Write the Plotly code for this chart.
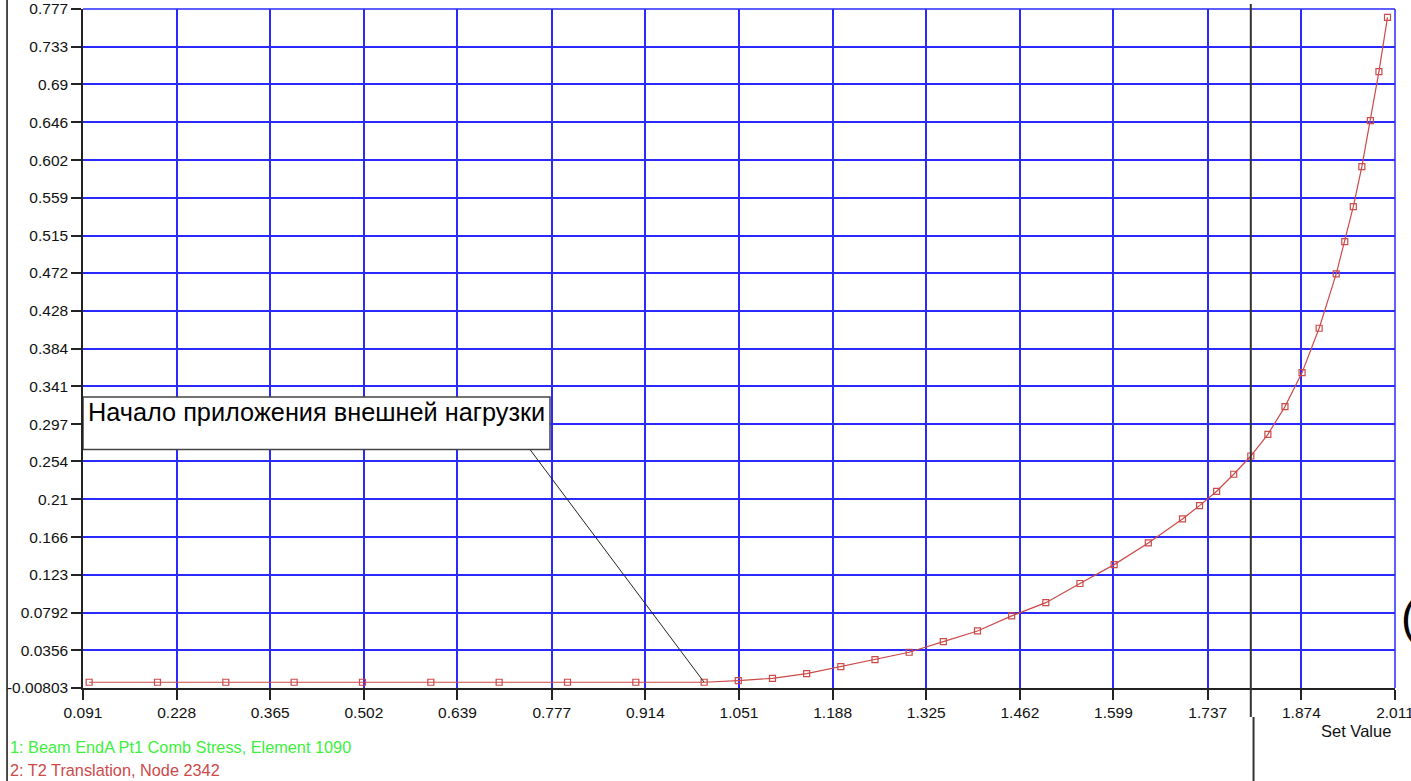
import plotly.graph_objects as go

# ---- data ----
set_value = [0.1, 0.2, 0.3, 0.4, 0.5, 0.6, 0.7, 0.8, 0.9, 1.0,
             1.05, 1.1, 1.15, 1.2, 1.25, 1.3, 1.35, 1.4, 1.45, 1.5,
             1.55, 1.6, 1.65, 1.7, 1.725, 1.75, 1.775, 1.8, 1.825, 1.85,
             1.875, 1.9, 1.925, 1.9375, 1.95, 1.9625, 1.975, 1.9875, 2.0]
t2_translation = [-0.0014, -0.0014, -0.0014, -0.0014, -0.0014, -0.0014, -0.0014, -0.0014, -0.0014, -0.0014,
                  0.0005, 0.0032, 0.0086, 0.0166, 0.0247, 0.0333, 0.0456, 0.0579, 0.0753, 0.0906,
                  0.1128, 0.1346, 0.1597, 0.1874, 0.2028, 0.2194, 0.2391, 0.2602, 0.2853, 0.3173,
                  0.3566, 0.4079, 0.4707, 0.5080, 0.5485, 0.5947, 0.6479, 0.7046, 0.7674]

x_ticks = [0.091, 0.228, 0.365, 0.502, 0.639, 0.777, 0.914, 1.051, 1.188,
           1.325, 1.462, 1.599, 1.737, 1.874, 2.011]
x_tick_labels = ["0.091", "0.228", "0.365", "0.502", "0.639", "0.777", "0.914", "1.051", "1.188",
                 "1.325", "1.462", "1.599", "1.737", "1.874", "2.011"]
y_ticks = [-0.00803, 0.0356, 0.0792, 0.123, 0.166, 0.21, 0.254, 0.297, 0.341, 0.384,
           0.428, 0.472, 0.515, 0.559, 0.602, 0.646, 0.69, 0.733, 0.777]
y_tick_labels = ["-0.00803", "0.0356", "0.0792", "0.123", "0.166", "0.21", "0.254", "0.297", "0.341", "0.384",
                 "0.428", "0.472", "0.515", "0.559", "0.602", "0.646", "0.69", "0.733", "0.777"]

annotation_text = "Начало приложения внешней нагрузки"
annotation_point = (1.0, -0.0014)
cursor_x = 1.8
legend_1 = "1: Beam EndA Pt1 Comb Stress, Element 1090"
legend_2 = "2: T2 Translation, Node 2342"
x_title = "Set Value"

EPS = 1e-5
X_RANGE = [x_ticks[0] - EPS, x_ticks[-1] + EPS]
Y_RANGE = [y_ticks[0] - EPS, y_ticks[-1] + EPS]

FONT = "Liberation Sans, Arial, sans-serif"
GRID = "#2a2aff"
RED = "#cc4a4a"

fig = go.Figure()
fig.add_trace(go.Scatter(
    x=set_value, y=t2_translation, mode="lines+markers",
    line=dict(color=RED, width=1.2),
    marker=dict(symbol="square-open", size=6, color=RED, line=dict(width=1.2, color=RED)),
    showlegend=False, hoverinfo="x+y"))

fig.update_layout(
    width=1411, height=781,
    margin=dict(l=83, r=16, t=9, b=93, autoexpand=False),
    paper_bgcolor="white", plot_bgcolor="white",
    font=dict(family=FONT, size=15, color="#111111"),
    showlegend=False,
    xaxis=dict(range=X_RANGE, tickvals=x_ticks, ticktext=x_tick_labels,
               showgrid=True, gridcolor=GRID, gridwidth=1.5,
               showline=True, linecolor="#222222", linewidth=1.5,
               ticks="outside", ticklen=10, tickwidth=1.5, tickcolor="#222222",
               tickfont=dict(family=FONT, size=15.5, color="#111111"),
               ticklabeloverflow="allow", automargin=False,
               zeroline=False, fixedrange=True),
    yaxis=dict(range=Y_RANGE, tickvals=y_ticks, ticktext=y_tick_labels,
               showgrid=True, gridcolor=GRID, gridwidth=1.5,
               showline=True, linecolor="#222222", linewidth=1.5,
               ticks="outside", ticklen=10, tickwidth=1.5, tickcolor="#222222",
               tickfont=dict(family=FONT, size=15.5, color="#111111"),
               ticklabeloverflow="allow", automargin=False,
               zeroline=False, fixedrange=True),
)

shapes = []
# blue top and right borders (grid at range edges)
shapes.append(dict(type="line", xref="paper", yref="paper", x0=0, x1=1, y0=1, y1=1,
                   line=dict(color=GRID, width=1.5), layer="below"))
shapes.append(dict(type="line", xref="paper", yref="paper", x0=1, x1=1, y0=0, y1=1,
                   line=dict(color=GRID, width=1.5), layer="below"))
# left border of the window
shapes.append(dict(type="line", xref="paper", yref="paper", x0=-0.0579, x1=-0.0579, y0=-0.14, y1=1.02,
                   line=dict(color="#111111", width=1.5)))
# vertical cursor line
shapes.append(dict(type="line", xref="x", yref="paper", x0=cursor_x, x1=cursor_x, y0=-0.0427, y1=1.0074,
                   line=dict(color="#333333", width=2)))
shapes.append(dict(type="line", xref="x", yref="paper", x0=cursor_x + 0.004, x1=cursor_x + 0.004,
                   y0=-0.14, y1=-0.0427, line=dict(color="#333333", width=2)))
# annotation box
box_x0, box_x1 = x_ticks[0], 0.7744
box_y0, box_y1 = 0.2676, 0.3284
shapes.append(dict(type="rect", xref="x", yref="y", x0=box_x0, x1=box_x1, y0=box_y0, y1=box_y1,
                   fillcolor="white", line=dict(color="#444444", width=1.5)))
# leader line
shapes.append(dict(type="line", xref="x", yref="y", x0=0.7452, y0=box_y0,
                   x1=annotation_point[0], y1=annotation_point[1],
                   line=dict(color="#222222", width=1)))
fig.update_layout(shapes=shapes)

fig.add_annotation(x=0.0955, y=0.3105, xref="x", yref="y", text=annotation_text,
                   showarrow=False, xanchor="left", yanchor="middle",
                   font=dict(family=FONT, size=25.3, color="#000000"))
fig.add_annotation(x=0.9985, y=-0.0633, xref="paper", yref="paper", text=x_title,
                   showarrow=False, xanchor="right", yanchor="middle",
                   font=dict(family=FONT, size=16.5, color="#111111"))
fig.add_annotation(x=-0.0572, y=-0.0869, xref="paper", yref="paper", text=legend_1,
                   showarrow=False, xanchor="left", yanchor="middle",
                   font=dict(family=FONT, size=16.3, color="#3cf03c"))
fig.add_annotation(x=-0.0572, y=-0.1208, xref="paper", yref="paper", text=legend_2,
                   showarrow=False, xanchor="left", yanchor="middle",
                   font=dict(family=FONT, size=16.3, color=RED))
fig.add_annotation(x=1.0030, y=0.1046, xref="paper", yref="paper", text="(",
                   showarrow=False, xanchor="left", yanchor="middle",
                   font=dict(family=FONT, size=46, color="#000000"))

fig.write_html("out.html")
